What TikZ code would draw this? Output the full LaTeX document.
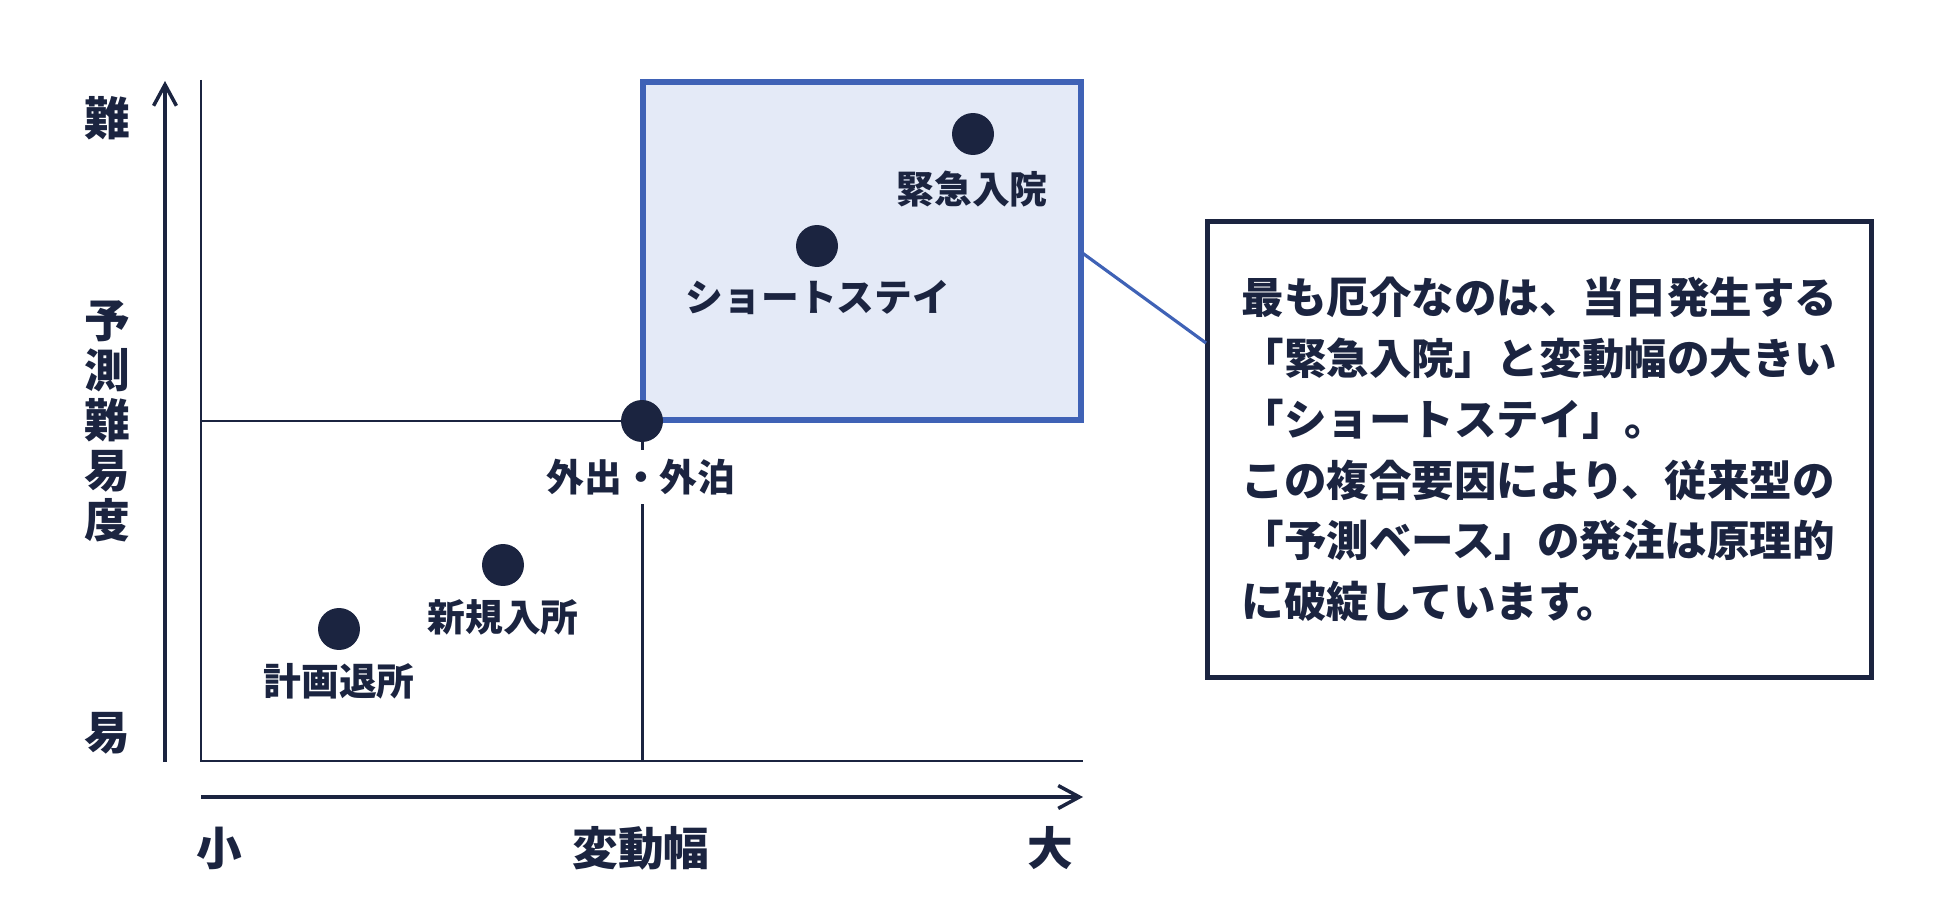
\documentclass[tikz,border=0pt]{standalone}
\usepackage{fontspec}
\setmainfont{Noto Sans CJK JP}
\usepackage{xcolor}
\usetikzlibrary{arrows.meta}
\definecolor{InkNavy}{HTML}{1B2440}
\definecolor{ZoneBlue}{HTML}{3F62B6}
\definecolor{ZoneFill}{HTML}{E4EAF7}

\begin{document}
\begin{tikzpicture}[
	x=0.02cm, y=-0.02cm, % one unit per layout pixel, y running downwards
	% Style for the data points
	dot/.style={
		circle,
		fill=InkNavy,
		minimum size=8.4mm,
		inner sep=0pt
	},
	% Style for the point names
	tag/.style={
		text=InkNavy,
		font=\fontsize{21.5}{26}\selectfont\bfseries,
		inner sep=2pt
	},
	% Style for the quadrant lines
	frame/.style={
		draw=InkNavy,
		line width=1.7pt
	},
	% Style for the two axes
	axis/.style={
		draw=InkNavy,
		line width=2pt,
		-{Straight Barb[length=12pt,width=13pt]}
	},
	% Style for the axis words
	axis label/.style={
		text=InkNavy,
		font=\fontsize{26}{28.5}\selectfont\bfseries,
		align=center
	},
	% Style for the highlighted quadrant
	zone/.style={
		draw=ZoneBlue,
		fill=ZoneFill,
		line width=3pt
	},
	% Style for the comment box
	note/.style={
		draw=InkNavy,
		fill=white,
		line width=2.8pt,
		minimum width=13.28cm,
		minimum height=9.12cm,
		align=left,
		text=InkNavy,
		font=\fontsize{24.2}{34.6}\selectfont\bfseries
	},
	% Style for the line from quadrant to box
	link/.style={
		draw=ZoneBlue,
		line width=1.8pt
	}
	]
	
	\useasboundingbox (0,0) rectangle (1948,902);
	
	% 1. Highlighted quadrant and the quadrant lines
	\draw[zone] (643,82) rectangle (1081,420);
	\draw[frame] (201,80) -- (201,761) -- (1083,761);
	\draw[frame] (201,421) -- (642,421) -- (642,761);
	
	% 2. Axes with their words
	\draw[axis] (165,762) -- (165,81);
	\draw[axis] (201,797) -- (1083,797);
	
	\node[axis label] (hard) at (107,118) {難};
	\node[axis label] (ylab) at (107,421) {予\\測\\難\\易\\度};
	\node[axis label] (easy) at (107,733) {易};
	
	\node[axis label] (small) at (219,848) {小};
	\node[axis label] (xlab) at (641,848) {変動幅};
	\node[axis label] (large) at (1050,848) {大};
	
	% 3. Data points and their names
	\node[dot] (kinkyu) at (973,134) {};
	\node[tag] at (972,189) {緊急入院};
	
	\node[dot] (short) at (817,246) {};
	\node[tag] at (818,298) {ショートステイ};
	
	\node[tag, fill=white, inner sep=5pt] at (641,477) {外出・外泊};
	\node[dot] (gaihaku) at (642,421) {};
	
	\node[dot] (shinki) at (503,565) {};
	\node[tag] at (503,617) {新規入所};
	
	\node[dot] (keikaku) at (339,629) {};
	\node[tag] at (339,681) {計画退所};
	
	% 4. Comment box and its pointer
	\node[note] (memo) at (1539.5,449.5) {最も厄介なのは、当日発生する\\「緊急入院」と変動幅の大きい\\「ショートステイ」。\\この複合要因により、従来型の\\「予測ベース」の発注は原理的\\に破綻しています。};
	
	\coordinate (zoneOut) at (1081,252);
	\coordinate (memoIn) at (1206,343);
	\draw[link] (zoneOut) -- (memoIn);
	
\end{tikzpicture}
\end{document}
